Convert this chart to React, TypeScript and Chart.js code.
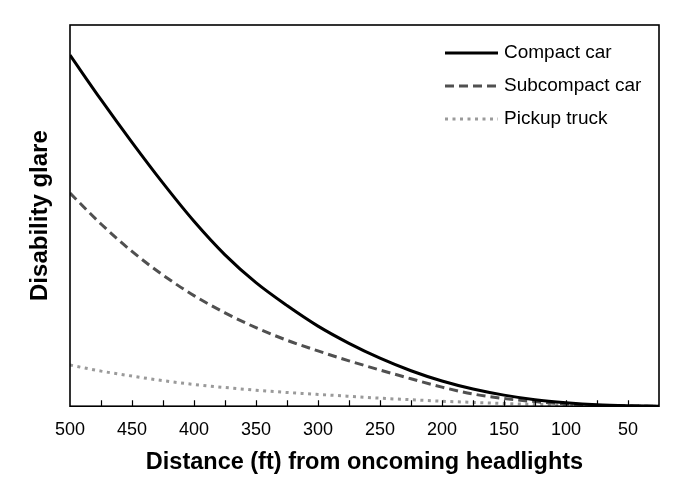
import React, { useEffect, useRef } from "react";
import { Chart, registerables } from "chart.js";

Chart.register(...registerables);

const distances = [500, 475, 450, 425, 400, 375, 350, 325, 300, 275, 250, 225, 200, 175, 150, 125, 100, 75, 50, 25];
const compactCar = [92.1, 80.4, 69.2, 58.5, 48.5, 39.7, 32.4, 26.4, 21.0, 16.5, 12.6, 9.3, 6.6, 4.5, 2.9, 1.7, 0.9, 0.35, 0.1, 0];
const subcompactCar = [55.9, 47.8, 40.6, 34.4, 29.0, 24.5, 20.6, 17.3, 14.5, 11.9, 9.5, 7.2, 5.0, 3.2, 2.0, 1.2, 0.6, 0.25, 0.05, 0];
const pickupTruck = [10.8, 9.2, 7.9, 6.7, 5.7, 4.9, 4.2, 3.6, 3.1, 2.6, 2.1, 1.7, 1.3, 1.0, 0.7, 0.5, 0.3, 0.15, 0.05, 0];
const seriesLabels = ["Compact car", "Subcompact car", "Pickup truck"];
const minorTickValues = [475, 450, 425, 400, 375, 350, 325, 300, 275, 250, 225, 200, 175, 150, 125, 100, 75, 50];

const FONT = "'Liberation Sans', Arial, sans-serif";

const framePlugin = {
  id: "frameAndTicks",
  afterDatasetsDraw(chart: any) {
    const { ctx, chartArea } = chart;
    const xs = chart.scales.x;
    ctx.save();
    ctx.strokeStyle = "#000";
    ctx.lineWidth = 1.2;
    ctx.beginPath();
    for (const v of minorTickValues) {
      const px = Math.round(xs.getPixelForValue(v)) + 0.5;
      ctx.moveTo(px, chartArea.bottom);
      ctx.lineTo(px, chartArea.bottom - 6);
    }
    ctx.stroke();
    ctx.lineWidth = 1.6;
    ctx.strokeRect(chartArea.left, chartArea.top, chartArea.right - chartArea.left, chartArea.bottom - chartArea.top);
    ctx.restore();
  },
  afterDraw(chart: any) {
    const { ctx, chartArea } = chart;
    const x0 = chartArea.right - 214;
    const x1 = chartArea.right - 161;
    const tx = chartArea.right - 155;
    let y = chartArea.top + 28;
    ctx.save();
    chart.data.datasets.forEach((ds: any) => {
      ctx.strokeStyle = ds.borderColor;
      ctx.lineWidth = ds.borderWidth;
      ctx.setLineDash(ds.borderDash || []);
      ctx.beginPath();
      ctx.moveTo(x0, y);
      ctx.lineTo(x1, y);
      ctx.stroke();
      ctx.setLineDash([]);
      ctx.fillStyle = "#000";
      ctx.font = `19px ${FONT}`;
      ctx.textBaseline = "middle";
      ctx.textAlign = "left";
      ctx.fillText(ds.label, tx, y);
      y += 33;
    });
    ctx.restore();
  },
};

export default function App() {
  const ref = useRef<HTMLCanvasElement | null>(null);
  useEffect(() => {
    document.body.style.margin = "0";
    const canvas = ref.current;
    if (!canvas) return;
    const mk = (vals: number[]) => distances.map((d, i) => ({ x: d, y: vals[i] }));
    const chart = new Chart(canvas, {
      type: "line",
      data: {
        datasets: [
          {
            label: seriesLabels[0],
            data: mk(compactCar),
            borderColor: "#000000",
            borderWidth: 3,
            pointRadius: 0,
            cubicInterpolationMode: "monotone",
            fill: false,
          },
          {
            label: seriesLabels[1],
            data: mk(subcompactCar),
            borderColor: "#505050",
            borderWidth: 3,
            borderDash: [9, 5],
            pointRadius: 0,
            cubicInterpolationMode: "monotone",
            fill: false,
          },
          {
            label: seriesLabels[2],
            data: mk(pickupTruck),
            borderColor: "#9a9a9a",
            borderWidth: 3,
            borderDash: [3, 4.5],
            pointRadius: 0,
            cubicInterpolationMode: "monotone",
            fill: false,
          },
        ],
      },
      options: {
        responsive: false,
        animation: false,
        devicePixelRatio: 1,
        layout: { padding: { top: 25, right: 41, left: 25.5, bottom: 7 } },
        plugins: { legend: { display: false }, tooltip: { enabled: false } },
        scales: {
          x: {
            type: "linear",
            min: 25,
            max: 500,
            reverse: true,
            border: { display: false },
            grid: { display: true, drawOnChartArea: false, drawTicks: true, tickLength: 13, color: "rgba(0,0,0,0)" },
            ticks: {
              stepSize: 25,
              autoSkip: false,
              maxRotation: 0,
              padding: 0,
              color: "#000",
              font: { family: FONT, size: 18 },
              callback: (v: any) => (Number(v) % 50 === 0 ? String(v) : ""),
            },
            title: {
              display: true,
              text: "Distance (ft) from oncoming headlights",
              color: "#000",
              font: { family: FONT, size: 23.5, weight: "bold" },
              padding: { top: 8, bottom: 4 },
            },
          },
          y: {
            min: 0,
            max: 100,
            border: { display: false },
            grid: { display: false, drawTicks: false, tickLength: 0 },
            ticks: { display: false },
            title: {
              display: true,
              text: "Disability glare",
              color: "#000",
              font: { family: FONT, size: 24, weight: "bold" },
              padding: { top: 0, bottom: 15.7 },
            },
          },
        },
      },
      plugins: [framePlugin],
    });
    return () => chart.destroy();
  }, []);
  return (
    <div style={{ width: 700, height: 488 }}>
      <canvas ref={ref} width={700} height={488} style={{ display: "block" }} />
    </div>
  );
}
